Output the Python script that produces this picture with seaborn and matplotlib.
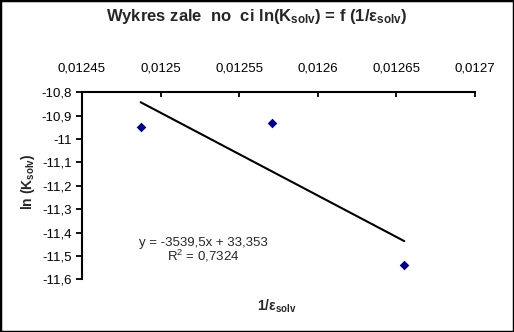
import matplotlib
matplotlib.use("Agg")
import matplotlib.pyplot as plt
import matplotlib.patches as mpatches
import seaborn as sns
import pandas as pd

# data
x_vals = [0.0124873, 0.0125707, 0.0126550]
y_vals = [-10.947, -10.930, -11.540]
x_ticks = [0.01245, 0.0125, 0.01255, 0.0126, 0.01265, 0.0127]
x_tick_labels = ["0,01245", "0,0125", "0,01255", "0,0126", "0,01265", "0,0127"]
y_ticks = [-10.8, -10.9, -11.0, -11.1, -11.2, -11.3, -11.4, -11.5, -11.6]
y_tick_labels = ["-10,8", "-10,9", "-11", "-11,1", "-11,2", "-11,3", "-11,4", "-11,5", "-11,6"]
title_text = "Wykres zale  no  ci ln(K$_{solv}$) = f (1/ε$_{solv}$)"
eq_text = "y = -3539,5x + 33,353"
r2_text = "R$^{2}$ = 0,7324"

df = pd.DataFrame({"x": x_vals, "y": y_vals})

sns.set_style("white")
plt.rcParams["font.family"] = ["Liberation Sans", "DejaVu Sans"]
plt.rcParams["mathtext.default"] = "regular"

fig = plt.figure(figsize=(5.14, 3.32), dpi=100)
ax = fig.add_axes([82 / 514, 1 - 279.3 / 332, (475 - 82) / 514, (279.3 - 92.3) / 332])

sns.regplot(data=df, x="x", y="y", scatter=False, ci=None, ax=ax,
            line_kws={"color": "black", "lw": 1.5})
sns.scatterplot(data=df, x="x", y="y", marker="D", s=24, color="#000080",
                linewidth=0, ax=ax, zorder=5)

ax.set_xlim(x_ticks[0], x_ticks[-1])
ax.set_ylim(y_ticks[-1], y_ticks[0])
ax.set_xticks(x_ticks)
ax.set_xticklabels(x_tick_labels)
ax.set_yticks(y_ticks)
ax.set_yticklabels(y_tick_labels)

ax.xaxis.tick_top()
ax.tick_params(axis="x", direction="in", length=3.5, width=1.3, labelsize=9.5, pad=13,
               top=True, bottom=False, colors="black")
ax.tick_params(axis="y", direction="out", length=4.5, width=1.3, labelsize=9.5, pad=3,
               left=True, colors="black")
for lab in ax.get_xticklabels() + ax.get_yticklabels():
    lab.set_color("black")

for side in ["right", "bottom"]:
    ax.spines[side].set_visible(False)
for side in ["top", "left"]:
    ax.spines[side].set_visible(True)
    ax.spines[side].set_color("black")
    ax.spines[side].set_linewidth(1.5)

ax.set_xlabel("")
ax.set_ylabel("")
ax.patch.set_alpha(0)

fig.text(0.5, 1 - 17 / 332, title_text, ha="center", va="center",
         fontsize=12, fontweight="bold")
fig.text(28 / 514, 1 - 182 / 332, "ln (K$_{solv}$)", ha="center", va="center",
         rotation=90, fontsize=10, fontweight="bold")
fig.text(277 / 514, 1 - 306 / 332, "1/ε$_{ solv}$", ha="center", va="center",
         fontsize=10, fontweight="bold")
fig.text(203 / 514, 1 - 243 / 332, eq_text, ha="center", va="center", fontsize=9.5)
fig.text(203 / 514, 1 - 256 / 332, r2_text, ha="center", va="center", fontsize=9.5)

fig.patches.append(mpatches.Rectangle((0, 0), 1, 1, transform=fig.transFigure,
                                      fill=False, ec="black", lw=2.5))

fig.savefig("out.png", dpi=100)
